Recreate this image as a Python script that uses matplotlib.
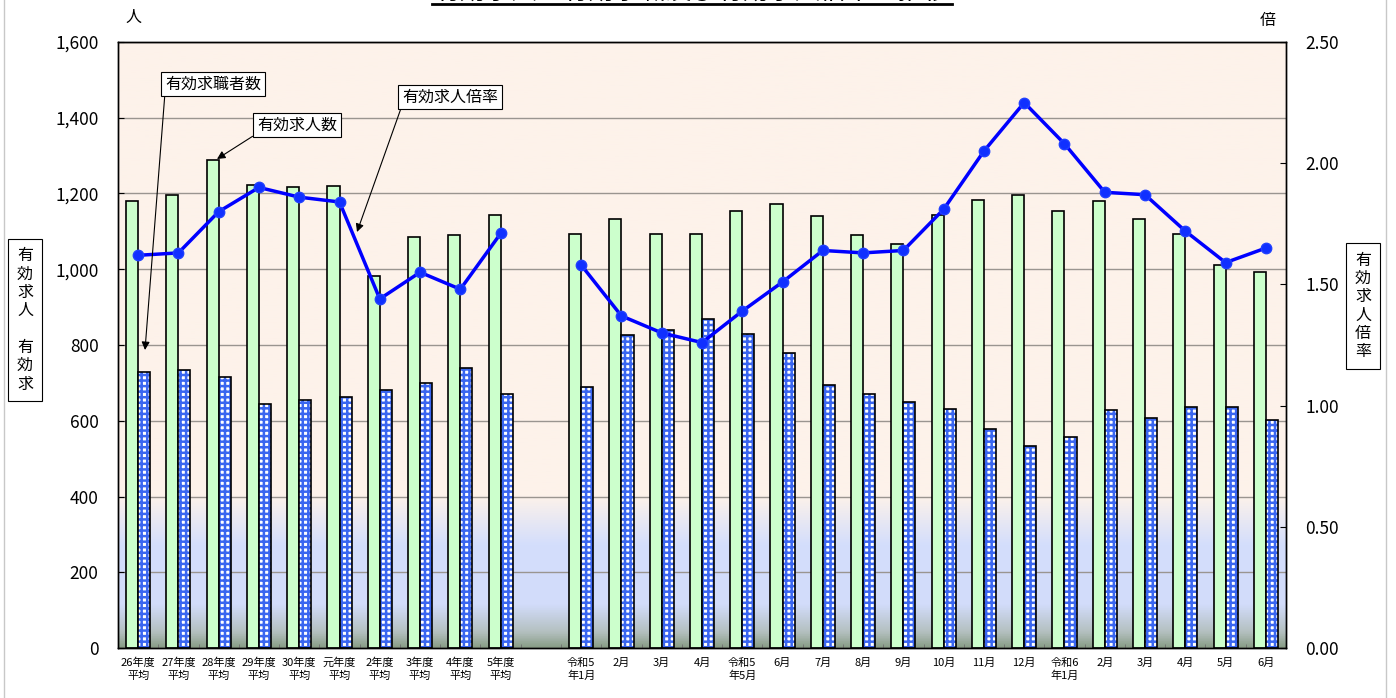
import numpy as np
import matplotlib
matplotlib.use('Agg')
import matplotlib.pyplot as plt
from matplotlib.colors import LinearSegmentedColormap
from matplotlib.lines import Line2D
from matplotlib.ticker import FuncFormatter

plt.rcParams['font.family'] = ['Noto Sans CJK JP', 'DejaVu Sans']
plt.rcParams['hatch.linewidth'] = 1.8

# === DATA ===
annual_labels = ['26年度\n平均', '27年度\n平均', '28年度\n平均', '29年度\n平均', '30年度\n平均',
                 '元年度\n平均', '2年度\n平均', '3年度\n平均', '4年度\n平均', '5年度\n平均']
annual_jobs = [1180, 1197, 1288, 1222, 1217, 1220, 982, 1085, 1090, 1143]
annual_seekers = [728, 734, 716, 644, 654, 664, 682, 700, 738, 670]
annual_ratio = [1.62, 1.63, 1.80, 1.90, 1.86, 1.84, 1.44, 1.55, 1.48, 1.71]

monthly_labels = ['令和5\n年1月', '2月', '3月', '4月', '令和5\n年5月', '6月', '7月', '8月', '9月',
                  '10月', '11月', '12月', '令和6\n年1月', '2月', '3月', '4月', '5月', '6月']
monthly_jobs = [1092, 1133, 1092, 1094, 1155, 1173, 1140, 1090, 1067,
                1143, 1184, 1196, 1155, 1181, 1132, 1093, 1010, 992]
monthly_seekers = [690, 827, 840, 869, 829, 779, 695, 670, 650,
                   632, 578, 534, 558, 629, 606, 636, 636, 601]
monthly_ratio = [1.58, 1.37, 1.30, 1.26, 1.39, 1.51, 1.64, 1.63, 1.64,
                 1.81, 2.05, 2.25, 2.08, 1.88, 1.87, 1.72, 1.59, 1.65]

title = '有効求人・有効求職及び有効求人倍率の推移'

# === LAYOUT ===
W, H = 1396, 698
def px(x, y):
    return (x / W, 1 - y / H)

fig = plt.figure(figsize=(W / 100, H / 100), dpi=100)
ax = fig.add_axes([118 / W, 50 / H, (1286 - 118) / W, (648 - 42) / H])
ax2 = ax.twinx()

n_slots = len(annual_labels) + 1 + len(monthly_labels)
xa = np.arange(len(annual_labels)) + 0.5
xm = np.arange(len(monthly_labels)) + len(annual_labels) + 1.5
bw = 0.3

# background gradient
cmap = LinearSegmentedColormap.from_list('bg', [
    (0.0, '#8A9E88'), (0.025, '#B4C0C0'), (0.07, '#D2DCFA'),
    (0.17, '#D4DEFC'), (0.25, '#FDF2EA'), (1.0, '#FDF2EA')])
ax.imshow(np.linspace(0, 1, 256).reshape(-1, 1), cmap=cmap, origin='lower',
          extent=[0, 1, 0, 1], transform=ax.transAxes, aspect='auto', zorder=0)

# bars
for x, jobs, seekers in [(xa, annual_jobs, annual_seekers), (xm, monthly_jobs, monthly_seekers)]:
    ax.bar(x - bw / 2, jobs, bw, color='#CCFFCC', edgecolor='black', lw=1.2, zorder=2)
    ax.bar(x + bw / 2, seekers, bw, color='white', edgecolor='#3A66F0', hatch='+++', lw=0, zorder=2)
    ax.bar(x + bw / 2, seekers, bw, fill=False, edgecolor='black', lw=1.2, zorder=3)

# ratio line
for x, r in [(xa, annual_ratio), (xm, monthly_ratio)]:
    ax2.plot(x, r, color='#0000FF', lw=2.5, marker='o', ms=7.5,
             markerfacecolor='#1030FF', markeredgecolor='#2040FF', zorder=4)

# axes
ax.set_xlim(0, n_slots)
ax.set_ylim(0, 1600)
ax2.set_ylim(0, 2.5)
ax.set_yticks(np.arange(0, 1601, 200))
ax2.set_yticks(np.arange(0, 2.51, 0.5))
ax.yaxis.set_major_formatter(FuncFormatter(lambda v, p: f'{v:,.0f}'))
ax2.yaxis.set_major_formatter(FuncFormatter(lambda v, p: f'{v:.2f}'))
ax.grid(axis='y', color='#9A9590', lw=1)
ax.set_axisbelow(True)

ax.set_xticks(np.concatenate([xa, xm]))
ax.set_xticklabels(annual_labels + monthly_labels, fontsize=8, linespacing=1.3)
ax.set_xticks(np.arange(1, n_slots), minor=True)
ax.tick_params(axis='x', which='major', length=0, pad=7)
ax.tick_params(axis='x', which='minor', direction='in', length=3, color='#707070')
ax.tick_params(axis='y', labelsize=12.5, pad=14, direction='in', length=4)
ax2.tick_params(axis='y', labelsize=12.5, pad=14, direction='in', length=4)
for a in (ax, ax2):
    for s in a.spines.values():
        s.set_color('black')
        s.set_linewidth(1)

# units
fig.text(*px(133, 17), '人', ha='center', va='center', fontsize=11.5)
fig.text(*px(1268, 21), '倍', ha='center', va='center', fontsize=11.5)

# axis label boxes
box = dict(boxstyle='square,pad=0.55', fc='white', ec='black', lw=0.8)
fig.text(*px(25, 320), '有\n効\n求\n人\n\n有\n効\n求', ha='center', va='center',
         fontsize=11.5, linespacing=1.1, bbox=box)
fig.text(*px(1363, 306), '有\n効\n求\n人\n倍\n率', ha='center', va='center',
         fontsize=11.5, linespacing=1.1, bbox=box)

# callouts
callouts = [('有効求職者数', (213, 84), (145, 350)),
            ('有効求人数', (297, 125), (217, 159)),
            ('有効求人倍率', (450, 97), (357, 232))]
for txt, tpos, hpos in callouts:
    ax2.annotate(txt, xy=px(*hpos), xytext=px(*tpos), xycoords='figure fraction',
                 textcoords='figure fraction', ha='center', va='center', fontsize=11.5,
                 bbox=dict(boxstyle='square,pad=0.25', fc='white', ec='black', lw=0.8),
                 arrowprops=dict(arrowstyle='-|>', color='black', lw=0.8, relpos=(0, 0),
                                 shrinkA=0, shrinkB=0, mutation_scale=12),
                 zorder=10)

# title (cut off at the top edge, as in the source) and frame lines
fig.text(692 / W, 1.0, title, ha='center', va='baseline', fontsize=18.5)
fig.add_artist(Line2D([432 / W, 952 / W], [1 - 3.5 / H] * 2, color='black', lw=2))
fig.add_artist(Line2D([4 / W, 4 / W], [0, 1], color='#C8C8C8', lw=1))
fig.add_artist(Line2D([1386 / W, 1386 / W], [0, 1], color='#C8C8C8', lw=1))

fig.savefig('out.png', dpi=100)
